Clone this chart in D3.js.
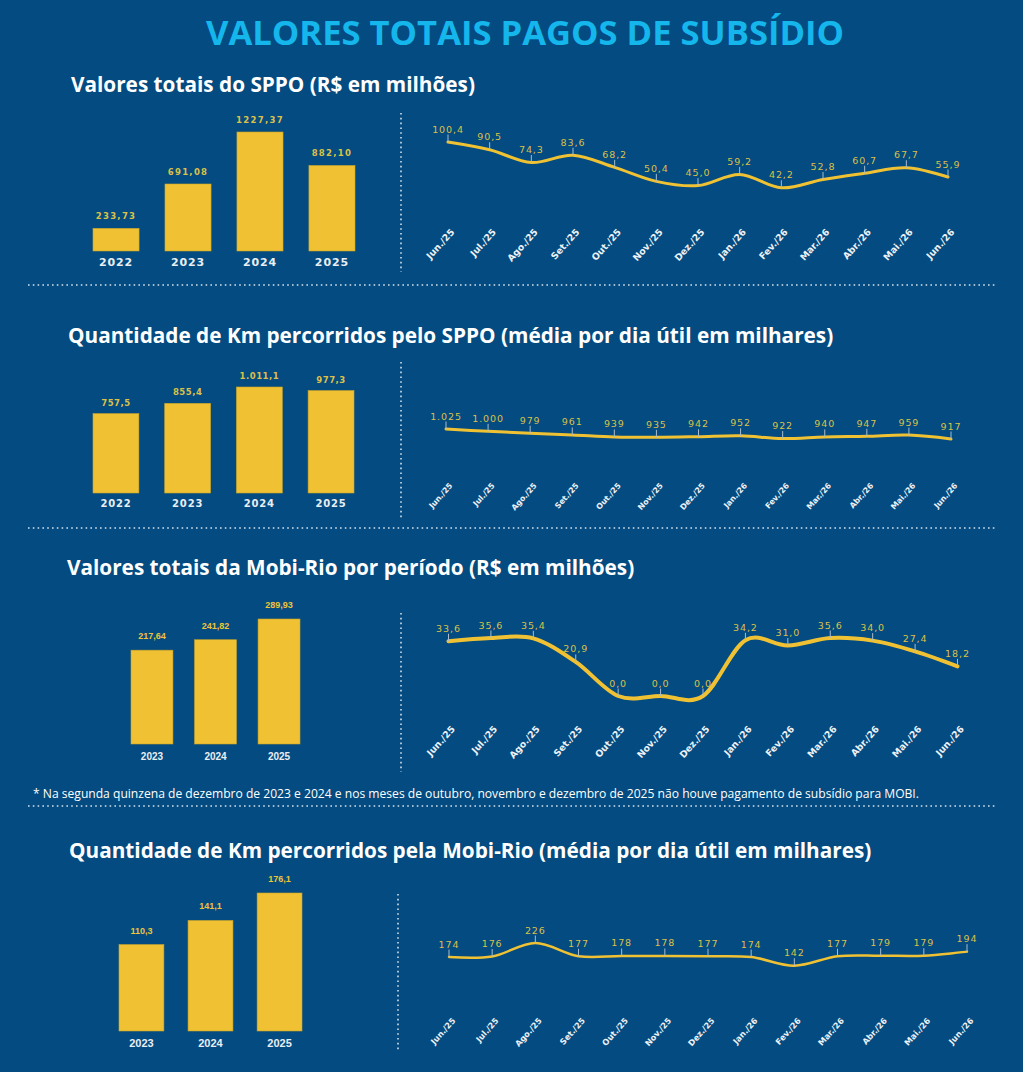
<!DOCTYPE html>
<html>
<head>
<meta charset="utf-8">
<script src="https://cdn.jsdelivr.net/npm/d3@7"></script>
<style>
  body { margin: 0; background: #034b80; }
  svg { display: block; }
</style>
</head>
<body>
<svg id="painel" width="1023" height="1072"></svg>
<script>
// __________________________ Dados _______________________________
var anosSppo = ["2022", "2023", "2024", "2025"];
var valoresSppo = [233.73, 691.08, 1227.37, 882.10];
var kmSppo = [757.5, 855.4, 1011.1, 977.3];

var anosMobi = ["2023", "2024", "2025"];
var valoresMobi = [217.64, 241.82, 289.93];
var kmMobi = [110.3, 141.1, 176.1];

var meses = ["Jun./25", "Jul./25", "Ago./25", "Set./25", "Out./25", "Nov./25", "Dez./25",
             "Jan./26", "Fev./26", "Mar./26", "Abr./26", "Mai./26", "Jun./26"];
var mensalValoresSppo = [100.4, 90.5, 74.3, 83.6, 68.2, 50.4, 45.0, 59.2, 42.2, 52.8, 60.7, 67.7, 55.9];
var mensalKmSppo = [1025, 1000, 979, 961, 939, 935, 942, 952, 922, 940, 947, 959, 917];
var mensalValoresMobi = [33.6, 35.6, 35.4, 20.9, 0.0, 0.0, 0.0, 34.2, 31.0, 35.6, 34.0, 27.4, 18.2];
var mensalKmMobi = [174, 176, 226, 177, 178, 178, 177, 174, 142, 177, 179, 179, 194];

var titulo = "VALORES TOTAIS PAGOS DE SUBSÍDIO";
var subtitulos = [
    "Valores totais do SPPO (R$ em milhões)",
    "Quantidade de Km percorridos pelo SPPO (média por dia útil em milhares)",
    "Valores totais da Mobi-Rio por período (R$ em milhões)",
    "Quantidade de Km percorridos pela Mobi-Rio (média por dia útil em milhares)"
];
var nota = "* Na segunda quinzena de dezembro de 2023 e 2024 e nos meses de outubro, novembro e dezembro de 2025 não houve pagamento de subsídio para MOBI.";

// formato brasileiro (vírgula decimal, ponto de milhar)
var br = d3.formatLocale({ decimal: ",", thousands: ".", grouping: [3], currency: ["R$ ", ""] });

var AMARELO = "#f0c233";
var DOURADO = "#dcc048";

// __________________________ Layout das seções _______________________________
var secoes = [
    {
        subtitulo: subtitulos[0], subX: 71, subY: 92,
        barras: { anos: anosSppo, valores: valoresSppo, fmt: ".2f", x0: 93, x1: 355, pad: 0.36,
                  base: 251, topo: 132, fonte: "DejaVu Sans", tamValor: 8.5, espValor: 1.3, gapValor: 9,
                  tamAno: 11, espAno: 0.9, anoY: 266 },
        linha: { valores: mensalValoresSppo, fmt: ".1f", x0: 448, x1: 948, yZero: 221, yMax: 142,
                 espessura: 3, tamValor: 9.5, tamMes: 9.3, mesY: 232.5 },
        divisor: { x: 401, y0: 113, y1: 272 }
    },
    {
        subtitulo: subtitulos[1], subX: 68, subY: 343,
        barras: { anos: anosSppo, valores: kmSppo, fmt: ",.1f", x0: 93, x1: 354, pad: 0.36,
                  base: 493, topo: 387, fonte: "DejaVu Sans", tamValor: 8.5, espValor: 0.5, gapValor: 8,
                  tamAno: 10, espAno: 0.8, anoY: 507 },
        linha: { valores: mensalKmSppo, fmt: ",.0f", x0: 446, x1: 951, yZero: 524, yMax: 429,
                 espessura: 3, tamValor: 9.5, tamMes: 7.8, mesY: 486 },
        divisor: { x: 401, y0: 362, y1: 518 }
    },
    {
        subtitulo: subtitulos[2], subX: 67, subY: 575,
        barras: { anos: anosMobi, valores: valoresMobi, fmt: ".2f", x0: 131, x1: 300, pad: 0.34,
                  base: 744, topo: 619, fonte: "Liberation Sans", tamValor: 9, espValor: 0, gapValor: 11,
                  tamAno: 10, espAno: 0, anoY: 760 },
        linha: { valores: mensalValoresMobi, fmt: ".1f", x0: 448.5, x1: 957.5, yZero: 696, yMax: 638,
                 espessura: 4, tamValor: 9.5, tamMes: 9.3, mesY: 729.5 },
        divisor: { x: 401, y0: 613, y1: 772 }
    },
    {
        subtitulo: subtitulos[3], subX: 69, subY: 858,
        barras: { anos: anosMobi, valores: kmMobi, fmt: ".1f", x0: 119, x1: 302, pad: 0.35,
                  base: 1031, topo: 893, fonte: "Liberation Sans", tamValor: 9, espValor: 0, gapValor: 11,
                  tamAno: 11, espAno: 0, anoY: 1047 },
        linha: { valores: mensalKmMobi, fmt: ".0f", x0: 449, x1: 967, yZero: 1004, yMax: 943,
                 espessura: 2.5, tamValor: 9.5, tamMes: 8.2, mesY: 1021 },
        divisor: { x: 398, y0: 894, y1: 1052 }
    }
];

var svg = d3.select("#painel");

svg.append("rect").attr("width", 1023).attr("height", 1072).attr("fill", "#034b80");

// título principal
svg.append("text")
    .attr("x", 525)
    .attr("y", 45)
    .attr("text-anchor", "middle")
    .style("font-family", "'Open Sans'")
    .style("font-weight", 700)
    .style("font-size", "34.6px")
    .style("fill", "#14b6ec")
    .text(titulo);

function linhaPontilhada(x1, y1, x2, y2) {
    svg.append("line")
        .attr("x1", x1).attr("y1", y1)
        .attr("x2", x2).attr("y2", y2)
        .style("stroke", "#d5dfe9")
        .style("stroke-width", 1.6)
        .style("stroke-dasharray", "1.6,3.2");
}

function desenhaBarras(cfg) {
    var g = svg.append("g");
    var x = d3.scaleBand()
        .domain(cfg.anos)
        .range([cfg.x0, cfg.x1])
        .paddingInner(cfg.pad)
        .paddingOuter(0);
    var y = d3.scaleLinear()
        .domain([0, d3.max(cfg.valores)])
        .range([cfg.base, cfg.topo]);
    var fmt = br.format(cfg.fmt);
    var dados = cfg.anos.map((a, i) => ({ ano: a, valor: cfg.valores[i] }));

    g.selectAll("rect")
        .data(dados)
        .enter()
        .append("rect")
        .attr("x", d => x(d.ano))
        .attr("y", d => y(d.valor))
        .attr("width", x.bandwidth())
        .attr("height", d => cfg.base - y(d.valor))
        .style("fill", AMARELO)
        .style("stroke", "#c9a42a")
        .style("stroke-width", 0.6);

    g.selectAll(".valor")
        .data(dados)
        .enter()
        .append("text")
        .attr("class", "valor")
        .attr("x", d => x(d.ano) + x.bandwidth() / 2)
        .attr("y", d => y(d.valor) - cfg.gapValor)
        .attr("text-anchor", "middle")
        .style("font-family", cfg.fonte)
        .style("font-weight", 700)
        .style("font-size", cfg.tamValor + "px")
        .style("letter-spacing", cfg.espValor + "px")
        .style("fill", cfg.fonte == "DejaVu Sans" ? DOURADO : "#efc439")
        .text(d => fmt(d.valor));

    g.selectAll(".ano")
        .data(dados)
        .enter()
        .append("text")
        .attr("class", "ano")
        .attr("x", d => x(d.ano) + x.bandwidth() / 2)
        .attr("y", cfg.anoY)
        .attr("text-anchor", "middle")
        .style("font-family", cfg.fonte)
        .style("font-weight", 700)
        .style("font-size", cfg.tamAno + "px")
        .style("letter-spacing", cfg.espAno + "px")
        .style("fill", "#e9eef4")
        .text(d => d.ano);
}

function desenhaLinha(cfg) {
    var g = svg.append("g");
    var x = d3.scalePoint()
        .domain(meses)
        .range([cfg.x0, cfg.x1]);
    var y = d3.scaleLinear()
        .domain([0, d3.max(cfg.valores)])
        .range([cfg.yZero, cfg.yMax]);
    var fmt = br.format(cfg.fmt);
    var dados = meses.map((m, i) => ({ mes: m, valor: cfg.valores[i] }));

    // linha suavizada, estilo Excel
    var linha = d3.line()
        .x(d => x(d.mes))
        .y(d => y(d.valor))
        .curve(d3.curveCardinal.tension(0));

    g.append("path")
        .datum(dados)
        .attr("d", linha)
        .style("fill", "none")
        .style("stroke", AMARELO)
        .style("stroke-width", cfg.espessura)
        .style("stroke-linecap", "round");

    // traço guia do rótulo
    g.selectAll(".guia")
        .data(dados)
        .enter()
        .append("line")
        .attr("class", "guia")
        .attr("x1", d => x(d.mes))
        .attr("x2", d => x(d.mes))
        .attr("y1", d => y(d.valor))
        .attr("y2", d => y(d.valor) - 7.5)
        .style("stroke", "#a9bccf")
        .style("stroke-width", 1);

    g.selectAll(".valor")
        .data(dados)
        .enter()
        .append("text")
        .attr("class", "valor")
        .attr("x", d => x(d.mes))
        .attr("y", d => y(d.valor) - 9.5)
        .attr("text-anchor", "middle")
        .style("font-family", "DejaVu Sans")
        .style("font-size", cfg.tamValor + "px")
        .style("letter-spacing", "0.9px")
        .style("fill", DOURADO)
        .text(d => fmt(d.valor));

    g.selectAll(".mes")
        .data(dados)
        .enter()
        .append("text")
        .attr("class", "mes")
        .attr("transform", d => "translate(" + (x(d.mes) + 7) + "," + cfg.mesY + ") rotate(-48)")
        .attr("text-anchor", "end")
        .style("font-family", "DejaVu Sans")
        .style("font-weight", 700)
        .style("font-size", cfg.tamMes + "px")
        .style("fill", "#eef2f7")
        .text(d => d.mes);
}

secoes.forEach((s) => {
    svg.append("text")
        .attr("x", s.subX)
        .attr("y", s.subY)
        .style("font-family", "'Open Sans'")
        .style("font-weight", 700)
        .style("font-size", "20.75px")
        .style("fill", "#ffffff")
        .text(s.subtitulo);

    desenhaBarras(s.barras);
    desenhaLinha(s.linha);
    linhaPontilhada(s.divisor.x, s.divisor.y0, s.divisor.x, s.divisor.y1);
});

// separadores horizontais
[285, 528, 806].forEach((yy) => linhaPontilhada(28, yy, 996, yy));

// nota de rodapé
svg.append("text")
    .attr("x", 33)
    .attr("y", 798)
    .style("font-family", "'Open Sans'")
    .style("font-size", "12.1px")
    .style("fill", "#ffffff")
    .text(nota);
</script>
</body>
</html>
